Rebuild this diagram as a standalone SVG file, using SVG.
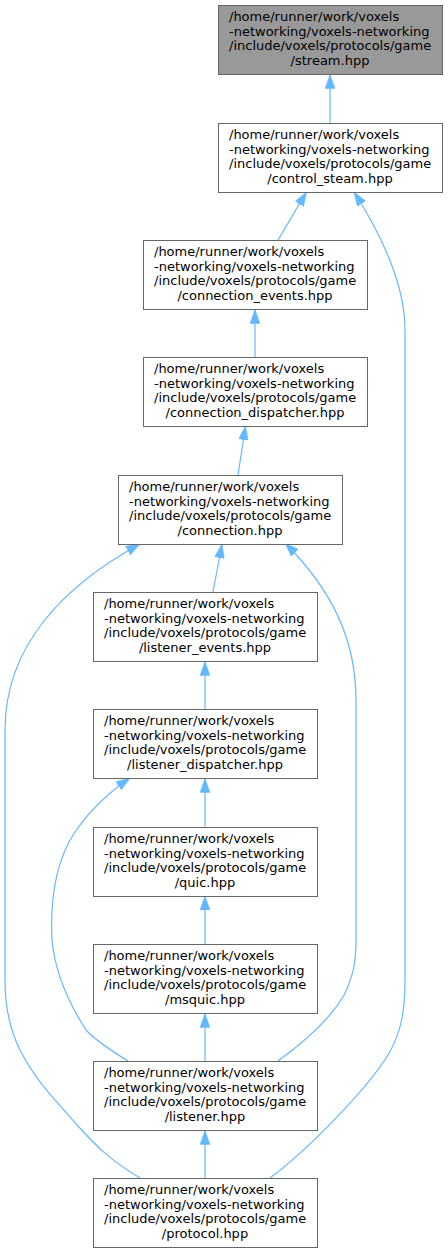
<svg xmlns="http://www.w3.org/2000/svg" width="448" height="1253" viewBox="0 0 448 1253">
<style>
.box{fill:#ffffff;stroke:#666666;stroke-width:1}
.root{fill:#999999;stroke:#666666;stroke-width:1}
text{font-family:"DejaVu Sans","Liberation Sans",sans-serif;font-size:13px;fill:#000000}
.c{text-anchor:middle}
.e{fill:none;stroke:#63b8ff;stroke-width:1.2;marker-end:url(#ah)}
</style>
<defs>
<marker id="ah" viewBox="0 0 14 10" refX="14" refY="5" markerWidth="14" markerHeight="10" markerUnits="userSpaceOnUse" orient="auto">
<path d="M0,0 L14,5 L0,10 z" fill="#63b8ff" stroke="#63b8ff" stroke-width="0.5"/>
</marker>
</defs>
<rect width="448" height="1253" fill="#ffffff"/>
<g id="edges">
<path class="e" d="M330,123 L330,74.5"/>
<path class="e" d="M278,240 L306.5,192"/>
<path class="e" d="M270,1178 C305,1152 365,1092 388,1055 C403,1030 405,1005 405,980 L405,330 C405,280 377,228 354,192"/>
<path class="e" d="M255,357 L255,309.5"/>
<path class="e" d="M238,475 L245.5,426"/>
<path class="e" d="M213,592 L222,544"/>
<path class="e" d="M140,1178 C110,1160 95,1145 78,1126 C55,1100 35,1080 20,1050 C7,1024 5,1000 5,980 L5,730 C5,645 65,585 140,544"/>
<path class="e" d="M278,1061 C300,1045 330,1020 344,995 C354,975 356,960 356,940 L356,700 C356,640 332,590 285,543"/>
<path class="e" d="M205,709 L205,661.5"/>
<path class="e" d="M128,1061 C110,1050 96,1041 86,1030 C70,1005 55,975 52,940 C50,900 55,862 75,832 C90,810 108,793 130,778"/>
<path class="e" d="M205,827 L205,778.5"/>
<path class="e" d="M205,944 L205,896"/>
<path class="e" d="M205,1061 L205,1013.5"/>
<path class="e" d="M205,1178 L205,1130.5"/>
</g>
<g id="stream">
<rect class="root" x="218.5" y="5.5" width="224" height="69"/>
<text x="229" y="21">/home/runner/work/voxels</text>
<text x="229" y="35.5">-networking/voxels-networking</text>
<text x="229" y="50">/include/voxels/protocols/game</text>
<text class="c" x="330" y="64.5">/stream.hpp</text>
</g>
<g id="control_steam">
<rect class="box" x="218.5" y="123.5" width="224" height="69"/>
<text x="229" y="139">/home/runner/work/voxels</text>
<text x="229" y="153.5">-networking/voxels-networking</text>
<text x="229" y="168">/include/voxels/protocols/game</text>
<text class="c" x="330" y="182.5">/control_steam.hpp</text>
</g>
<g id="connection_events">
<rect class="box" x="143.5" y="240.5" width="224" height="69"/>
<text x="154" y="256">/home/runner/work/voxels</text>
<text x="154" y="270.5">-networking/voxels-networking</text>
<text x="154" y="285">/include/voxels/protocols/game</text>
<text class="c" x="255" y="299.5">/connection_events.hpp</text>
</g>
<g id="connection_dispatcher">
<rect class="box" x="143.5" y="357.5" width="224" height="69"/>
<text x="154" y="373">/home/runner/work/voxels</text>
<text x="154" y="387.5">-networking/voxels-networking</text>
<text x="154" y="402">/include/voxels/protocols/game</text>
<text class="c" x="255" y="416.5">/connection_dispatcher.hpp</text>
</g>
<g id="connection">
<rect class="box" x="118.5" y="475.5" width="224" height="69"/>
<text x="129" y="491">/home/runner/work/voxels</text>
<text x="129" y="505.5">-networking/voxels-networking</text>
<text x="129" y="520">/include/voxels/protocols/game</text>
<text class="c" x="230" y="534.5">/connection.hpp</text>
</g>
<g id="listener_events">
<rect class="box" x="93.5" y="592.5" width="224" height="69"/>
<text x="104" y="608">/home/runner/work/voxels</text>
<text x="104" y="622.5">-networking/voxels-networking</text>
<text x="104" y="637">/include/voxels/protocols/game</text>
<text class="c" x="205" y="651.5">/listener_events.hpp</text>
</g>
<g id="listener_dispatcher">
<rect class="box" x="93.5" y="709.5" width="224" height="69"/>
<text x="104" y="725">/home/runner/work/voxels</text>
<text x="104" y="739.5">-networking/voxels-networking</text>
<text x="104" y="754">/include/voxels/protocols/game</text>
<text class="c" x="205" y="768.5">/listener_dispatcher.hpp</text>
</g>
<g id="quic">
<rect class="box" x="93.5" y="827.5" width="224" height="69"/>
<text x="104" y="843">/home/runner/work/voxels</text>
<text x="104" y="857.5">-networking/voxels-networking</text>
<text x="104" y="872">/include/voxels/protocols/game</text>
<text class="c" x="205" y="886.5">/quic.hpp</text>
</g>
<g id="msquic">
<rect class="box" x="93.5" y="944.5" width="224" height="69"/>
<text x="104" y="960">/home/runner/work/voxels</text>
<text x="104" y="974.5">-networking/voxels-networking</text>
<text x="104" y="989">/include/voxels/protocols/game</text>
<text class="c" x="205" y="1003.5">/msquic.hpp</text>
</g>
<g id="listener">
<rect class="box" x="93.5" y="1061.5" width="224" height="69"/>
<text x="104" y="1077">/home/runner/work/voxels</text>
<text x="104" y="1091.5">-networking/voxels-networking</text>
<text x="104" y="1106">/include/voxels/protocols/game</text>
<text class="c" x="205" y="1120.5">/listener.hpp</text>
</g>
<g id="protocol">
<rect class="box" x="93.5" y="1178.5" width="224" height="69"/>
<text x="104" y="1194">/home/runner/work/voxels</text>
<text x="104" y="1208.5">-networking/voxels-networking</text>
<text x="104" y="1223">/include/voxels/protocols/game</text>
<text class="c" x="205" y="1237.5">/protocol.hpp</text>
</g>
</svg>
